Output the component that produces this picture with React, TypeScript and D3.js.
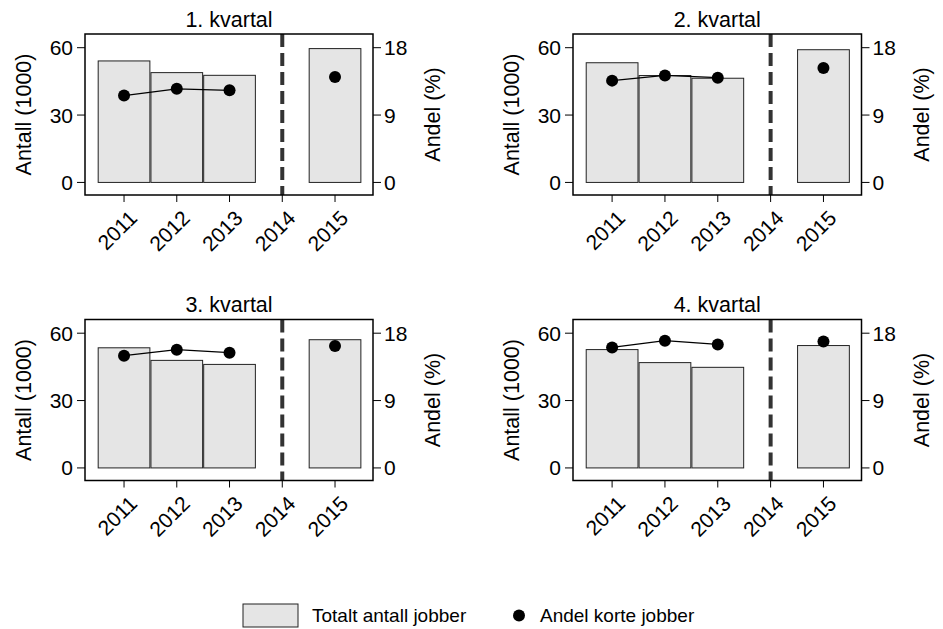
import React from "react";
import * as d3 from "d3";

const years = [2011, 2012, 2013, 2014, 2015];
const barYears = [2011, 2012, 2013, 2015];
const quarterTitles = ["1. kvartal", "2. kvartal", "3. kvartal", "4. kvartal"];
const totalJobs = [
  [54.1, 48.9, 47.7, 59.6],
  [53.3, 47.6, 46.4, 59.1],
  [53.5, 47.9, 46.1, 57.1],
  [52.7, 46.9, 44.8, 54.5],
];
const shortShare = [
  [11.6, 12.5, 12.3, 14.1],
  [13.6, 14.3, 14.0, 15.3],
  [15.0, 15.8, 15.4, 16.3],
  [16.1, 17.0, 16.5, 16.9],
];
const leftTicks = [0, 30, 60];
const rightTicks = [0, 9, 18];
const breakYear = 2014;
const legendLabels = ["Totalt antall jobber", "Andel korte jobber"];

const W = 943;
const H = 629;
const FONT = "Liberation Sans, Arial, Helvetica, sans-serif";
const panelBoxes = [
  { x0: 85, x1: 373, y0: 34, y1: 195 },
  { x0: 573, x1: 861.5, y0: 34, y1: 195 },
  { x0: 85, x1: 373, y0: 319.5, y1: 480.5 },
  { x0: 573, x1: 861.5, y0: 319.5, y1: 480.5 },
];

function Panel({ idx }: { idx: number }) {
  const b = panelBoxes[idx];
  const x = d3.scaleLinear().domain([2010.26, 2015.72]).range([b.x0, b.x1]);
  const y = d3.scaleLinear().domain([-5.6, 66.1]).range([b.y1, b.y0]);
  const yr = d3.scaleLinear().domain([-5.6 * 0.3, 66.1 * 0.3]).range([b.y1, b.y0]);
  const bars = totalJobs[idx];
  const pcts = shortShare[idx];
  const lineGen = d3
    .line<number>()
    .x((_, i) => x(barYears[i]))
    .y((d) => yr(d));
  const linePts = pcts.slice(0, 3);
  const bw = x(2011.49) - x(2010.51);
  const cx = (b.x0 + b.x1) / 2;
  const cy = (b.y0 + b.y1) / 2;
  return (
    <g>
      <text x={cx} y={b.y0 - 7.5} textAnchor="middle" fontSize={21.5} fontFamily={FONT} fill="#000">
        {quarterTitles[idx]}
      </text>
      <rect x={b.x0} y={b.y0} width={b.x1 - b.x0} height={b.y1 - b.y0} fill="#fff" />
      {bars.map((v, i) => (
        <rect
          key={i}
          x={x(barYears[i]) - bw / 2}
          y={y(v)}
          width={bw}
          height={y(0) - y(v)}
          fill="#e5e5e5"
          stroke="#222"
          strokeWidth={1}
        />
      ))}
      <line
        x1={x(breakYear)}
        x2={x(breakYear)}
        y1={b.y0}
        y2={b.y1}
        stroke="#333"
        strokeWidth={4}
        strokeDasharray="13,6"
      />
      <path d={lineGen(linePts) || ""} fill="none" stroke="#000" strokeWidth={1.2} />
      {pcts.map((p, i) => (
        <circle key={i} cx={x(barYears[i])} cy={yr(p)} r={6} fill="#000" />
      ))}
      <rect x={b.x0} y={b.y0} width={b.x1 - b.x0} height={b.y1 - b.y0} fill="none" stroke="#000" strokeWidth={1.5} />
      {leftTicks.map((t) => (
        <g key={"l" + t}>
          <line x1={b.x0 - 8} x2={b.x0} y1={y(t)} y2={y(t)} stroke="#000" strokeWidth={1} />
          <text x={b.x0 - 12} y={y(t)} dy="0.36em" textAnchor="end" fontSize={21} fontFamily={FONT}>
            {t}
          </text>
        </g>
      ))}
      {rightTicks.map((t) => (
        <g key={"r" + t}>
          <line x1={b.x1} x2={b.x1 + 8} y1={yr(t)} y2={yr(t)} stroke="#000" strokeWidth={1} />
          <text x={b.x1 + 11} y={yr(t)} dy="0.36em" textAnchor="start" fontSize={21} fontFamily={FONT}>
            {t}
          </text>
        </g>
      ))}
      {years.map((yv) => (
        <g key={"x" + yv}>
          <line x1={x(yv)} x2={x(yv)} y1={b.y1} y2={b.y1 + 7} stroke="#000" strokeWidth={1} />
          <text
            transform={`translate(${x(yv) + 4},${b.y1 + 14}) rotate(-45)`}
            textAnchor="end"
            dy="0.7em"
            fontSize={21}
            fontFamily={FONT}
          >
            {yv}
          </text>
        </g>
      ))}
      <text
        transform={`translate(${b.x0 - 54},${cy}) rotate(-90)`}
        textAnchor="middle"
        fontSize={21.5}
        fontFamily={FONT}
      >
        Antall (1000)
      </text>
      <text
        transform={`translate(${b.x1 + 67},${cy}) rotate(-90)`}
        textAnchor="middle"
        fontSize={21.5}
        fontFamily={FONT}
      >
        Andel (%)
      </text>
    </g>
  );
}

export default function App() {
  return (
    <svg
      width={W}
      height={H}
      style={{ position: "absolute", left: 0, top: 0, background: "#fff" }}
      xmlns="http://www.w3.org/2000/svg"
    >
      <rect x={0} y={0} width={W} height={H} fill="#fff" />
      {[0, 1, 2, 3].map((i) => (
        <Panel key={i} idx={i} />
      ))}
      <g>
        <rect x={243} y={604} width={55} height={23} fill="#e5e5e5" stroke="#222" strokeWidth={1} />
        <text x={312} y={622} fontSize={19} fontFamily={FONT}>
          {legendLabels[0]}
        </text>
        <circle cx={519} cy={615.5} r={6} fill="#000" />
        <text x={540} y={622} fontSize={19} fontFamily={FONT}>
          {legendLabels[1]}
        </text>
      </g>
    </svg>
  );
}
